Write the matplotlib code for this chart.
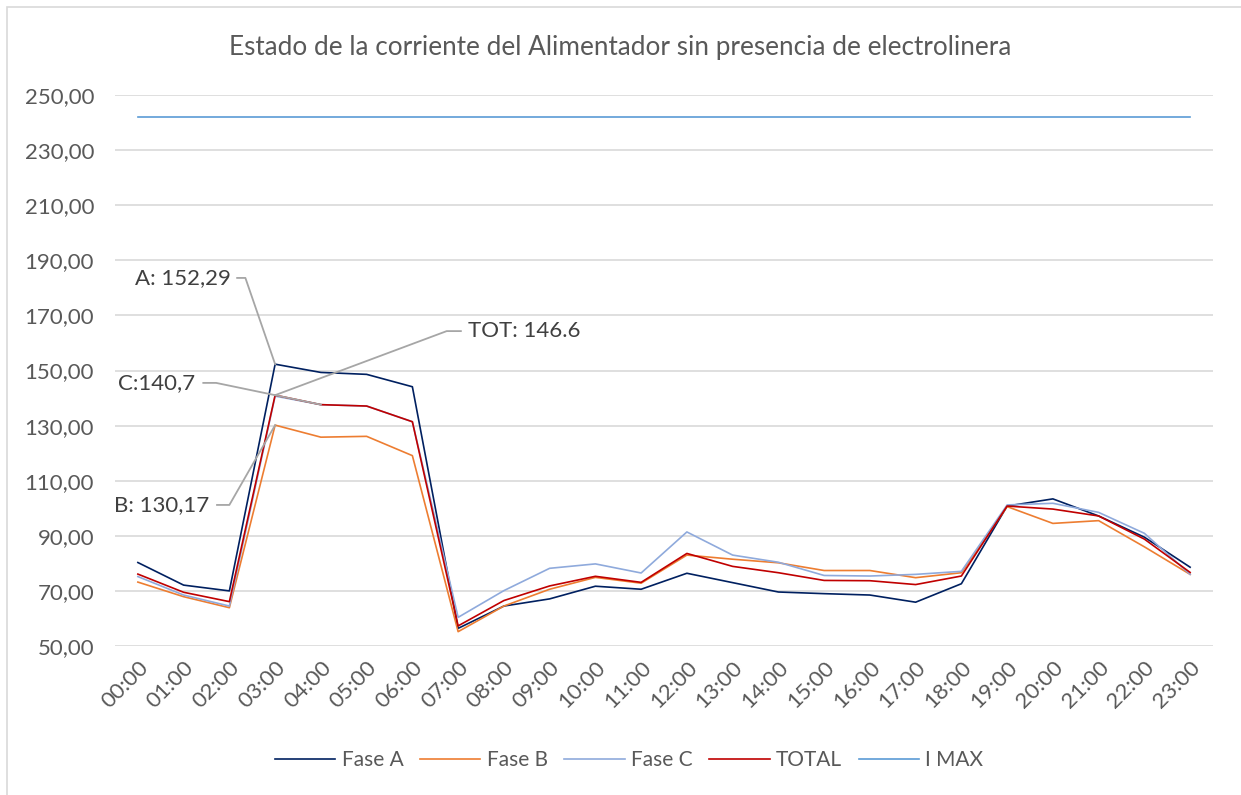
import matplotlib
matplotlib.use("Agg")
import matplotlib.pyplot as plt
from matplotlib.patches import Rectangle

hours = ["00:00", "01:00", "02:00", "03:00", "04:00", "05:00", "06:00", "07:00",
         "08:00", "09:00", "10:00", "11:00", "12:00", "13:00", "14:00", "15:00",
         "16:00", "17:00", "18:00", "19:00", "20:00", "21:00", "22:00", "23:00"]

fase_a = [80.3, 72.1, 70.0, 152.29, 149.3, 148.6, 144.1, 56.4, 64.5, 67.1, 71.7, 70.6,
          76.4, 73.0, 69.6, 69.0, 68.5, 65.9, 72.6, 100.8, 103.4, 97.2, 89.5, 78.6]
fase_b = [73.2, 67.9, 63.9, 130.17, 125.8, 126.1, 119.1, 55.2, 64.5, 70.6, 74.9, 72.8,
          83.0, 81.5, 80.2, 77.4, 77.4, 74.8, 76.6, 100.6, 94.5, 95.5, 86.0, 76.0]
fase_c = [75.2, 68.5, 64.5, 140.7, 137.6, 137.1, 131.4, 60.4, 70.1, 78.2, 79.8, 76.5,
          91.4, 83.0, 80.4, 75.6, 75.4, 76.0, 77.1, 101.2, 101.8, 98.5, 90.9, 76.0]
total = [76.1, 69.5, 66.1, 141.05, 137.6, 137.1, 131.4, 57.3, 66.5, 71.8, 75.3, 73.1,
         83.6, 78.9, 76.6, 73.8, 73.7, 72.3, 75.4, 100.8, 99.7, 97.2, 88.8, 76.7]
i_max = [242.0] * 24

yticks = [50, 70, 90, 110, 130, 150, 170, 190, 210, 230, 250]

plt.rcParams['font.family'] = ['Lato', 'DejaVu Sans']
txt = "#595959"

fig = plt.figure(figsize=(12.41, 7.95), dpi=100)
fig.patches.append(Rectangle((7 / 1241, -0.1), 1.2, 1 - 7 / 795 + 0.1, transform=fig.transFigure,
                             fill=False, edgecolor="#D9D9D9", linewidth=1.2))
ax = fig.add_axes([115 / 1241, 1 - 646 / 795, (1213 - 115) / 1241, (646 - 95) / 795])

x = list(range(len(hours)))
lw = 1.2
ax.plot(x, fase_a, color="#002060", lw=lw, label="Fase A", zorder=3)
ax.plot(x, fase_b, color="#ED7D31", lw=lw, label="Fase B", zorder=3)
ax.plot(x, fase_c, color="#8FAADC", lw=lw, label="Fase C", zorder=3)
ax.plot(x, total, color="#C00000", lw=lw, label="TOTAL", zorder=4)
ax.plot(x, i_max, color="#5B9BD5", lw=lw, label="I MAX", zorder=3)

ax.set_xlim(-0.5, 23.5)
ax.set_ylim(50, 250)
ax.set_yticks(yticks)
ax.set_yticklabels([f"{v:.2f}".replace(".", ",") for v in yticks], fontsize=16, color=txt)
ax.set_xticks(x)
ax.set_xticklabels(hours, rotation=45, ha="right", va="top", rotation_mode="anchor",
                   fontsize=16, color=txt)
ax.tick_params(axis="both", length=0)
ax.tick_params(axis="y", pad=15)
ax.tick_params(axis="x", pad=8)
ax.grid(axis="y", color="#D9D9D9", lw=1.2, zorder=0)
for s in ax.spines.values():
    s.set_visible(False)

fig.text(0.5, 1 - 47 / 795, "Estado de la corriente del Alimentador sin presencia de electrolinera",
         ha="center", va="center", fontsize=18.8, color=txt)

# annotations with leader lines
lc = "#A6A6A6"
ann = [
    ("A: 152,29", 2.04, 183.6, [2.17, 2.35], 3, fase_a[3], "right"),
    ("TOT: 146.6", 7.21, 164.3, [7.06, 6.75], 3, total[3], "left"),
    ("C:140,7", 1.25, 145.5, [1.43, 1.71], 4, fase_c[4], "right"),
    ("B: 130,17", 1.56, 101.2, [1.73, 2.0], 3, fase_b[3], "right"),
]
for label, tx, ty, seg, px, py, ha in ann:
    ax.text(tx, ty, label, ha=ha, va="center", fontsize=16, color="#404040", zorder=6)
    ax.plot([seg[0], seg[1], px], [ty, ty, py], color=lc, lw=1.3, zorder=5)

ax.legend(loc="center", bbox_to_anchor=(0.507, 1 - 760 / 795), bbox_transform=fig.transFigure,
          ncol=5, frameon=False, fontsize=15, labelcolor=txt, handlelength=2.9,
          columnspacing=0.8, handletextpad=0.3)

fig.savefig("out.png", dpi=100)
